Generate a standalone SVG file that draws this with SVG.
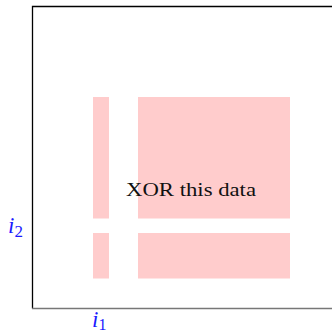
<svg xmlns="http://www.w3.org/2000/svg" width="332" height="334" viewBox="0 0 332 334">
<style>
.blk{fill:#ffcccc;stroke:none}
.lbl{font-family:"Liberation Serif","DejaVu Serif",serif;font-style:italic;fill:#1a1aff}
</style>
<rect width="332" height="334" fill="#fff"/>
<g id="blocks">
<rect class="blk" x="93" y="97" width="16" height="121.5"/>
<rect class="blk" x="138" y="97" width="152" height="121.5"/>
<rect class="blk" x="93" y="233" width="16" height="45.5"/>
<rect class="blk" x="138" y="233" width="152" height="45.5"/>
</g>
<g id="connectors">
<path d="M32.5 308.5 V6.5 H332" fill="none" stroke="#000" stroke-width="1.3"/>
<path d="M32 308.5 H332" fill="none" stroke="#777" stroke-width="1.5"/>
</g>
<g id="text">
<text x="126" y="196" font-family="'Liberation Serif','DejaVu Serif',serif" font-size="19.5" fill="#111" textLength="130" lengthAdjust="spacingAndGlyphs">XOR this data</text>
<text class="lbl" x="8" y="233" font-size="23">i<tspan font-size="17" font-style="normal" dy="4">2</tspan></text>
<text class="lbl" x="92" y="327" font-size="23">i<tspan font-size="16" font-style="normal" dy="3">1</tspan></text>
</g>
</svg>
